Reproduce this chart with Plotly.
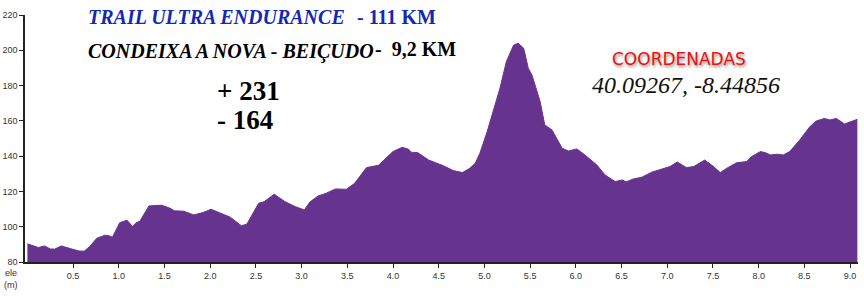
import plotly.graph_objects as go

# Distance along route (km) and elevation (m)
km = [0.00, 0.12, 0.19, 0.25, 0.30, 0.37, 0.47, 0.56, 0.62, 0.68, 0.76, 0.85, 0.90, 0.93,
      1.01, 1.09, 1.15, 1.19, 1.23, 1.33, 1.47, 1.56, 1.61, 1.71, 1.82, 1.92, 2.01, 2.11,
      2.22, 2.34, 2.40, 2.53, 2.59, 2.70, 2.82, 2.93, 3.03, 3.09, 3.18, 3.27, 3.37, 3.49,
      3.58, 3.71, 3.84, 4.00, 4.10, 4.17, 4.20, 4.27, 4.39, 4.55, 4.66, 4.76, 4.84, 4.90,
      4.95, 5.03, 5.10, 5.17, 5.24, 5.32, 5.37, 5.43, 5.48, 5.52, 5.56, 5.61, 5.66, 5.74,
      5.79, 5.85, 5.92, 6.01, 6.10, 6.16, 6.23, 6.32, 6.43, 6.51, 6.55, 6.63, 6.72, 6.83,
      6.94, 7.03, 7.11, 7.21, 7.29, 7.41, 7.50, 7.58, 7.65, 7.76, 7.87, 7.92, 8.02, 8.07,
      8.13, 8.20, 8.27, 8.34, 8.45, 8.56, 8.63, 8.72, 8.78, 8.85, 8.94, 9.01, 9.08]
elev = [90.3, 88.2, 89.1, 87.4, 87.3, 89.1, 87.6, 86.3, 86.1, 88.7, 93.5, 95.2, 94.8, 94.0,
        102.3, 103.7, 100.1, 102.3, 103.1, 111.8, 112.2, 110.5, 109.0, 108.8, 106.7, 108.0, 109.9, 107.6,
        105.4, 100.6, 101.4, 113.3, 114.2, 118.4, 114.2, 111.4, 109.5, 114.0, 117.4, 119.0, 121.4, 121.2,
        124.6, 133.5, 134.8, 142.6, 145.0, 143.9, 142.2, 142.0, 137.8, 134.6, 131.8, 130.7, 133.1, 136.0,
        141.6, 153.9, 166.2, 178.5, 193.6, 203.0, 204.0, 201.1, 189.8, 186.0, 179.4, 170.9, 157.7, 154.8,
        150.1, 144.5, 142.9, 144.1, 140.7, 138.2, 135.0, 129.3, 125.6, 126.5, 125.4, 127.1, 128.0, 130.9,
        132.6, 134.1, 136.7, 133.5, 134.1, 137.8, 134.4, 130.7, 133.1, 136.3, 136.9, 139.7, 142.6, 142.0,
        140.7, 141.1, 140.7, 142.6, 149.2, 156.7, 159.9, 161.4, 160.5, 161.4, 158.2, 159.6, 160.9]

x_ticks = [0.5, 1.0, 1.5, 2.0, 2.5, 3.0, 3.5, 4.0, 4.5, 5.0, 5.5, 6.0, 6.5, 7.0, 7.5, 8.0, 8.5, 9.0]
x_tick_labels = [f"{v:.1f}" for v in x_ticks]
y_ticks = [80, 100, 120, 140, 160, 180, 200, 220]

title_main = "TRAIL ULTRA ENDURANCE"
title_dist = "- 111 KM"
stage = "CONDEIXA A NOVA - BEIÇUDO"
stage_dist = "-  9,2 KM"
gain = "+ 231"
loss = "- 164"
coord_label = "COORDENADAS"
coord_value = "40.09267, -8.44856"

W, H = 864, 300
ML, MR, MT, MB = 25, 6, 15, 38
PW, PH = W - ML - MR, H - MT - MB


def px(x):
    return (x - ML) / PW


def py(y):
    return (H - MB - y) / PH


fig = go.Figure()
fig.add_trace(go.Scatter(
    x=km, y=elev, mode="lines", fill="tozeroy",
    fillcolor="#66348e", line=dict(color="#6a3590", width=1),
    hoverinfo="skip", showlegend=False,
))

tick_font = dict(family="Liberation Sans Narrow, Liberation Sans, Arial", size=9, color="#333333")

fig.update_layout(
    width=W, height=H,
    margin=dict(l=ML, r=MR, t=MT, b=MB, autoexpand=False),
    paper_bgcolor="white", plot_bgcolor="white",
    xaxis=dict(range=[-0.026, 9.087], tickvals=x_ticks, ticktext=x_tick_labels,
               automargin=False,
               showgrid=False, zeroline=False, showline=True, linecolor="#222222",
               linewidth=1.5, ticks="outside", ticklen=4, tickcolor="#222222",
               tickfont=tick_font),
    yaxis=dict(range=[80, 220], tickvals=y_ticks, showgrid=False, zeroline=False,
               automargin=False,
               showline=True, linecolor="#222222", linewidth=1.5, ticks="outside",
               ticklen=4, tickcolor="#222222", tickfont=tick_font),
)

anns = [
    dict(text="<b><i>" + title_main + "</i></b>", x=px(87), y=py(17),
         font=dict(family="Liberation Serif", size=20, color="#1428b4")),
    dict(text="<b>" + title_dist + "</b>", x=px(356), y=py(17),
         font=dict(family="Liberation Serif", size=20, color="#1428b4")),
    dict(text="<b><i>" + stage + "</i></b>", x=px(87), y=py(51),
         font=dict(family="Liberation Serif", size=20, color="#000000")),
    dict(text="<b>" + stage_dist + "</b>", x=px(374), y=py(49),
         font=dict(family="Liberation Serif", size=20, color="#000000")),
    dict(text="<b>" + gain + "</b>", x=px(216), y=py(91),
         font=dict(family="Liberation Serif", size=27, color="#000000")),
    dict(text="<b>" + loss + "</b>", x=px(216), y=py(120),
         font=dict(family="Liberation Serif", size=27, color="#000000")),
    dict(text=coord_label, x=px(611), y=py(59),
         font=dict(family="DejaVu Sans", size=17, color="#ee1111",
                   shadow="1px 2px 3px #888888")),
    dict(text="<i>" + coord_value + "</i>", x=px(591), y=py(85),
         font=dict(family="Liberation Serif", size=24, color="#111111")),
    dict(text="ele", x=px(4), y=py(273),
         font=dict(family="Liberation Sans Narrow, Liberation Sans, Arial", size=9, color="#333333")),
    dict(text="(m)", x=px(3), y=py(285),
         font=dict(family="Liberation Sans Narrow, Liberation Sans, Arial", size=9, color="#333333")),
]
for a in anns:
    fig.add_annotation(xref="paper", yref="paper", xanchor="left", yanchor="middle",
                       showarrow=False, borderpad=0, **a)

fig.write_html("out.html")
